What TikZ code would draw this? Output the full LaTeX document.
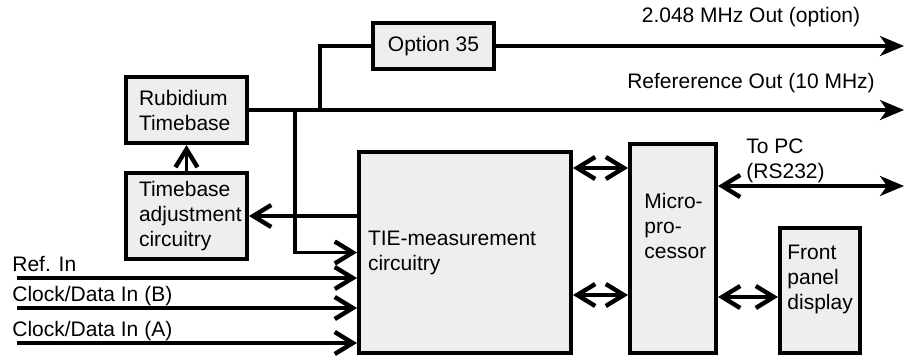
\documentclass[tikz,border=0pt]{standalone}
\usepackage{fontspec}
\setmainfont{Liberation Sans}
\usepackage{tikz}
\definecolor{boxgray}{RGB}{238,238,238}
\usetikzlibrary{arrows.meta, positioning, calc}

\begin{document}
\begin{tikzpicture}[x=0.5pt, y=-0.5pt,
    font=\fontsize{10.5}{12.5}\selectfont,
    blk/.style={draw, line width=2pt, fill=boxgray, inner ysep=0pt},
    txt/.style={align=left, inner sep=0pt},
    wire/.style={line width=1.7pt},
    barb/.style={wire, -{Straight Barb[length=9pt,width=11pt,line width=2.2pt]}},
    dbl/.style={wire, {Straight Barb[length=9pt,width=11pt,line width=2.2pt]}-{Straight Barb[length=9pt,width=11pt,line width=2.2pt]}},
    outarr/.style={wire, -{Stealth[length=12pt,width=10pt,inset=3.5pt]}}]
    \useasboundingbox (0,0) rectangle (919,358);

    % Blocks
    \node[blk, minimum width=60.5pt, minimum height=33pt, inner xsep=6.5pt,
          text width=47.5pt, align=left] (rb) at (186.5,110) {Rubidium\\Timebase};
    \node[blk, minimum width=60.5pt, minimum height=43pt, inner xsep=6.5pt,
          text width=47.5pt, align=left] (ta) at (186.5,216) {Timebase\\adjustment\\circuitry};
    \node[blk, minimum width=60.5pt, minimum height=23pt] (op) at (433.5,46) {Option 35};
    \node[blk, minimum width=106pt, minimum height=100.5pt, inner xsep=4.5pt,
          text width=97pt, align=left] (tie) at (465,252.5) {TIE-measurement\\circuitry};
    \node[blk, minimum width=43pt, minimum height=104.5pt] (mp) at (673,248.5) {};
    \node[blk, minimum width=40pt, minimum height=62.5pt] (fp) at (820,290.5) {};
    \node[txt, anchor=west] (mptxt) at (644,226) {Micro-\\pro-\\cessor};
    \node[txt, anchor=west] (fptxt) at (787,279) {Front\\panel\\display};

    % Outputs
    \coordinate (refout) at (904,110);
    \coordinate (pc) at (904,186);
    \coordinate (br1) at (320,110);
    \coordinate (br2) at (295,110);
    \draw[outarr] (rb.east) -- (refout);
    \draw[wire] (br1) |- (op.west);
    \draw[outarr] (op.east) -- (op.east -| refout);
    \node (outlbl1) at (751,17) {2.048 MHz Out (option)};
    \node (outlbl2) at (751,83) {Refererence Out (10 MHz)};

    % Timebase loop
    \draw[barb] (br2) |- (tie.west);
    \draw[barb] (tie.west |- ta.east) -- (ta.east);
    \draw[barb] (ta.north) -- (rb.south);

    % Inputs
    \foreach \y/\n/\label in {278/rin/{Ref. In}, 308/cinb/{Clock/Data In (B)}, 343/cina/{Clock/Data In (A)}} {
        \coordinate (\n) at (17,\y);
        \draw[barb] (\n) -- (\n -| tie.west);
        \node[txt, anchor=base west] (\n lbl) at ($(\n)+(-5,-7)$) {\label};
    }

    % Bus connections
    \draw[dbl] (tie.east |- 0,168) -- (mp.west |- 0,168);
    \draw[dbl] (tie.east |- 0,295) -- (mp.west |- 0,295);
    \draw[dbl] (mp.east |- 0,297) -- (fp.west |- 0,297);
    \draw[wire, {Straight Barb[length=9pt,width=11pt,line width=2.2pt]}-{Stealth[length=12pt,width=10pt,inset=3.5pt]}]
        (mp.east |- pc) -- (pc);
    \node[txt, anchor=west] (pclbl) at (746,161) {To PC\\(RS232)};
\end{tikzpicture}
\end{document}
